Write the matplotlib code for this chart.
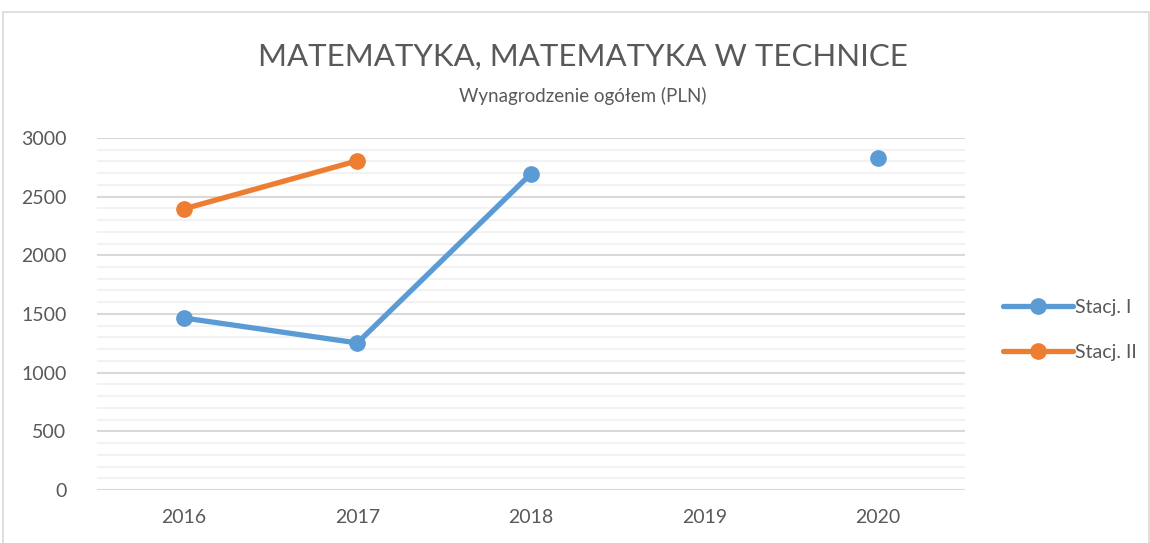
import numpy as np
import matplotlib
matplotlib.use("Agg")
import matplotlib.pyplot as plt
from matplotlib.patches import Rectangle

plt.rcParams['font.family'] = ['Lato', 'DejaVu Sans']

years = ['2016', '2017', '2018', '2019', '2020']
stacj_1 = [1466, 1253, 2694, np.nan, 2830]
stacj_2 = [2395, 2805, np.nan, np.nan, np.nan]

blue = '#5b9bd5'
orange = '#ed7d31'
txt = '#595959'

fig = plt.figure(figsize=(11.5, 5.43), dpi=100)
ax = fig.add_axes([0.0843, 0.0976, 0.7547, 0.6484])

x = np.arange(len(years))
ax.plot(x, stacj_1, color=blue, lw=3.8, marker='o', ms=11, label='Stacj. I',
        solid_capstyle='round', zorder=3)
ax.plot(x, stacj_2, color=orange, lw=3.8, marker='o', ms=11, label='Stacj. II',
        solid_capstyle='round', zorder=3)

ax.set_xlim(-0.5, 4.5)
ax.set_ylim(0, 3000)
ax.set_xticks(x)
ax.set_xticklabels(years)
ax.set_yticks(np.arange(0, 3001, 500))
ax.set_yticks(np.arange(0, 3001, 100), minor=True)
ax.grid(which='major', axis='y', color='#d9d9d9', lw=1.5, zorder=1)
ax.grid(which='minor', axis='y', color='#f2f2f2', lw=1.5, zorder=0)
ax.tick_params(which='both', length=0, labelsize=14, colors=txt)
ax.tick_params(axis='x', pad=14)
ax.tick_params(axis='y', pad=22)
for s in ax.spines.values():
    s.set_visible(False)

fig.text(0.507, 0.895, 'MATEMATYKA, MATEMATYKA W TECHNICE', ha='center',
         va='center', fontsize=22.5, color=txt)
fig.text(0.507, 0.823, 'Wynagrodzenie ogółem (PLN)', ha='center',
         va='center', fontsize=13.5, color=txt)

leg = fig.legend(loc='center left', bbox_to_anchor=(0.857, 0.393),
                 frameon=False, fontsize=14, handlelength=3.6,
                 handletextpad=0.1, labelspacing=1.45, labelcolor=txt)

fig.patches.append(Rectangle((0.003, -0.01), 0.996, 0.988, transform=fig.transFigure,
                             fill=False, edgecolor='#d9d9d9', lw=1.2))

fig.savefig('out.png', dpi=100, facecolor='white')
